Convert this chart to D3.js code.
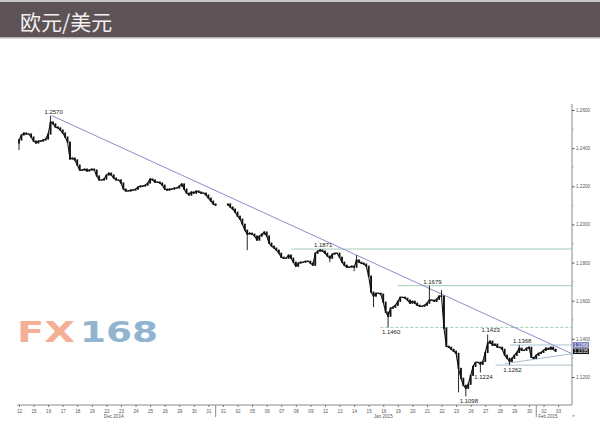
<!DOCTYPE html>
<html><head><meta charset="utf-8">
<script src="https://cdn.jsdelivr.net/npm/d3@7"></script>
<style>body{margin:0;background:#fff}svg{display:block}</style>
</head><body>
<svg id="c" width="600" height="424"></svg>
<script>
const title = "欧元/美元";
const dayLabels = ["12","15","16","17","18","19","22","23","24","25","26","29","30","31","01","02","05","06","07","08","09","12","13","14","15","16","19","20","21","22","23","26","27","28","29","30","02","03"];
const monthLabels = [["Dec 2014", 6.5], ["Jan 2015", 25], ["Feb 2015", 36.3]];
const monthBreaks = [13.5, 35.5];
const candlesPerDay = 6;
const firstOpen = 1.2427;
const closes = [
1.2443,1.2469,1.2479,1.2474,1.2474,1.2458,1.2437,1.2427,1.2437,1.2437,1.2443,1.2448,
1.2474,1.2537,1.2527,1.2511,1.2506,1.2495,1.2479,1.2458,1.2432,1.2343,1.2348,1.2338,
1.2311,1.2285,1.2285,1.2290,1.2280,1.2285,1.2290,1.2285,1.2254,1.2233,1.2233,1.2238,
1.2259,1.2269,1.2259,1.2243,1.2233,1.2233,1.2217,1.2185,1.2175,1.2175,1.2180,1.2180,
1.2185,1.2196,1.2201,1.2201,1.2206,1.2217,1.2238,1.2233,1.2222,1.2222,1.2217,1.2206,
1.2185,1.2180,1.2185,1.2185,1.2191,1.2191,1.2201,1.2212,1.2185,1.2164,1.2154,1.2170,
1.2164,1.2175,1.2170,1.2164,1.2164,1.2154,1.2138,1.2122,1.2107,1.2101,null,null,
null,null,1.2107,1.2091,1.2080,1.2064,1.2043,1.2028,1.2001,1.1970,1.1949,1.1954,
1.1949,1.1939,1.1918,1.1939,1.1949,1.1960,1.1939,1.1902,1.1886,1.1876,1.1865,1.1849,
1.1828,1.1823,1.1823,1.1839,1.1823,1.1802,1.1781,1.1797,1.1802,1.1802,1.1807,1.1807,
1.1797,1.1786,1.1849,1.1860,1.1865,1.1860,1.1849,1.1834,1.1823,1.1844,1.1849,1.1849,
1.1828,1.1802,1.1786,1.1776,1.1776,1.1781,1.1776,1.1813,1.1802,1.1797,1.1792,1.1781,
1.1729,1.1645,1.1624,1.1639,1.1639,1.1634,1.1592,1.1540,1.1519,1.1561,1.1566,1.1576,
1.1597,1.1618,1.1618,1.1613,1.1603,1.1587,1.1597,1.1587,1.1576,1.1571,1.1571,1.1576,
1.1587,1.1603,1.1603,1.1597,1.1608,1.1624,1.1624,1.1456,1.1361,1.1356,1.1345,1.1335,
1.1324,1.1245,1.1193,1.1156,1.1141,1.1162,1.1209,1.1256,1.1277,1.1277,1.1267,1.1282,
1.1329,1.1377,1.1388,1.1366,1.1372,1.1356,1.1356,1.1345,1.1314,1.1298,1.1282,1.1298,
1.1314,1.1329,1.1351,1.1340,1.1340,1.1351,1.1356,1.1303,1.1298,1.1314,1.1324,1.1329,
1.1340,1.1351,1.1345,1.1356,1.1345,1.1335
];
// wick extremes: [candle index, high or low, price]
const spikes = [
[0,"low",1.2390],[13,"high",1.2570],[94,"low",1.1865],[124,"high",1.1871],[128,"low",1.1802],
[138,"low",1.1755],[139,"high",1.1839],[146,"low",1.1566],[152,"low",1.1460],[169,"high",1.1679],
[174,"high",1.1655],[181,"low",1.1120],[184,"low",1.1098],[190,"low",1.1224],[193,"high",1.1423],
[202,"low",1.1262],[206,"high",1.1368]
];
// labelled extremes: [text, candle index, side]
const annotations = [
["1.2570",13,"high"],["1.1871",124,"high"],["1.1679",169,"high"],["1.1460",152,"low"],
["1.1423",193,"high"],["1.1368",206,"high"],["1.1262",202,"low"],["1.1224",190,"low"],["1.1098",184,"low"]
];
// horizontal levels: [price, start day index, dashed]
const levels = [[1.1871,18.7,false],[1.1679,26.0,false],[1.1460,24.8,true]];
const lowerLevels = [[1.1368,33.7],[1.1262,32.7]];
// trendlines: [[t0,p0],[t1,p1]]
const downTrend = [[2.26,1.2570],[37.95,1.1322]];
const upTrend = [[33.36,1.1270],[37.95,1.1322]];
const yTicks = [1.12,1.14,1.16,1.18,1.20,1.22,1.24,1.26];
const yMinor = [1.13,1.15,1.17,1.19,1.21,1.23,1.25];
const tagBlue = 1.1368;
const tagBlack = 1.1335;

const svg = d3.select("#c");
// title bar
svg.append("rect").attr("x",0).attr("y",0).attr("width",600).attr("height",37).attr("fill","#5d5356");
svg.append("rect").attr("x",0).attr("y",0).attr("width",600).attr("height",2).attr("fill","#c9c6c7");
svg.append("rect").attr("x",0).attr("y",37).attr("width",600).attr("height",1.5).attr("fill","#b5b0b2");
svg.append("text").attr("x",20).attr("y",30).attr("fill","#f2f0f0")
  .attr("font-family","'Noto Sans CJK SC'").attr("font-size",21).text(title);

const axisX = 572;
const x = d3.scaleLinear().domain([0,37]).range([19, 19+37*14.57]);
const y = d3.scaleLinear().domain([1.12,1.26]).range([377,110]);

// watermark
const wm = svg.append("g").attr("opacity",0.85).attr("font-family","'DejaVu Sans'").attr("font-weight","bold").attr("font-size",29);
wm.append("text").attr("x",17).attr("y",342).attr("fill","#f2a386").attr("textLength",58).attr("lengthAdjust","spacingAndGlyphs").text("FX");
wm.append("text").attr("x",80).attr("y",342).attr("fill","#7ea9c9").attr("textLength",78).attr("lengthAdjust","spacingAndGlyphs").text("168");

// levels
levels.forEach(([p,t0,dash])=>{
  svg.append("line").attr("x1",x(t0)).attr("x2",axisX).attr("y1",y(p)).attr("y2",y(p))
    .attr("stroke","#a3cdb8").attr("stroke-width",1).attr("stroke-dasharray",dash?"3,2":null);
});
lowerLevels.forEach(([p,t0])=>{
  svg.append("line").attr("x1",x(t0)).attr("x2",axisX).attr("y1",y(p)).attr("y2",y(p))
    .attr("stroke","#a9c3cf").attr("stroke-width",1);
});
[[downTrend,"#8a8ec6"],[upTrend,"#a9bccd"]].forEach(([tl,col])=>{
  svg.append("line").attr("x1",x(tl[0][0])).attr("y1",y(tl[0][1])).attr("x2",x(tl[1][0])).attr("y2",y(tl[1][1]))
    .attr("stroke",col).attr("stroke-width",1);
});

// candles
const candles = [];
let prev = firstOpen;
closes.forEach((c,i)=>{
  if(c===null) return;
  const o = prev;
  let h = Math.max(o,c), l = Math.min(o,c);
  spikes.filter(s=>s[0]===i).forEach(s=>{ if(s[1]==="high") h=s[2]; else l=s[2]; });
  candles.push({i,o,h,l,c,t:i/candlesPerDay});
  prev = c;
});
const cg = svg.append("g");
// thin trace through closes (same data) to give the continuous look of the dense candles
const segs = [];
let cur = [];
closes.forEach((c,i)=>{ if(c===null){ if(cur.length) segs.push(cur); cur=[]; } else cur.push({t:i/candlesPerDay,c}); });
if(cur.length) segs.push(cur);
const ln = d3.line().x(d=>x(d.t)).y(d=>y(d.c));
segs.forEach(s=>cg.append("path").attr("d",ln(s)).attr("fill","none").attr("stroke","#111").attr("stroke-width",1.1));
cg.selectAll("line").data(candles).join("line")
  .attr("x1",d=>x(d.t)).attr("x2",d=>x(d.t)).attr("y1",d=>y(d.h)).attr("y2",d=>y(d.l))
  .attr("stroke","#111").attr("stroke-width",0.9);
cg.selectAll("rect").data(candles).join("rect")
  .attr("x",d=>x(d.t)-0.9).attr("width",1.8)
  .attr("y",d=>Math.min(y(d.o),y(d.c))-0.6)
  .attr("height",d=>Math.abs(y(d.o)-y(d.c))+1.2)
  .attr("fill","#111");

// annotations
annotations.forEach(([txt,i,side])=>{
  const cd = candles.find(d=>d.i===i);
  const yy = side==="high" ? y(cd.h)-2 : y(cd.l)+7;
  svg.append("text").attr("x",x(cd.t)+3).attr("y",yy).attr("text-anchor","middle")
    .attr("font-family","'Liberation Sans'").attr("font-size",6).attr("fill","#222").text(txt);
});

// right axis
svg.append("line").attr("x1",axisX).attr("x2",axisX).attr("y1",104).attr("y2",405).attr("stroke","#8a8a8a").attr("stroke-width",1);
const ya = svg.append("g").attr("transform",`translate(${axisX},0)`)
  .call(d3.axisRight(y).tickValues(yTicks).tickSize(2.5).tickFormat(d3.format(".4f")));
ya.select(".domain").remove();
ya.selectAll("line").attr("stroke","#555");
ya.selectAll("text").attr("font-family","'Liberation Sans'").attr("font-size",4.6).attr("fill","#555").attr("x",4);
svg.append("g").selectAll("line").data(yMinor).join("line")
  .attr("x1",axisX).attr("x2",axisX+1.5).attr("y1",d=>y(d)).attr("y2",d=>y(d)).attr("stroke","#aaa");

// price tags
[[tagBlue,"#6b6fb3"],[tagBlack,"#151515"]].forEach(([p,col])=>{
  svg.append("rect").attr("x",axisX+1).attr("y",y(p)-2.8).attr("width",16).attr("height",5.6).attr("fill",col);
  svg.append("text").attr("x",axisX+9).attr("y",y(p)+1.7).attr("text-anchor","middle")
    .attr("font-family","'Liberation Sans'").attr("font-size",4.6).attr("fill","#fff").text(d3.format(".4f")(p));
});

// bottom axis
svg.append("line").attr("x1",17).attr("x2",axisX).attr("y1",405).attr("y2",405).attr("stroke","#8a8a8a");
const xa = svg.append("g").attr("transform","translate(0,405)")
  .call(d3.axisBottom(x).tickValues(d3.range(dayLabels.length)).tickSize(2).tickFormat(i=>dayLabels[i]));
xa.select(".domain").remove();
xa.selectAll("line").attr("stroke","#777");
xa.selectAll("text").attr("font-family","'Liberation Sans'").attr("font-size",4.6).attr("fill","#555").attr("dy",0).attr("y",8);
monthBreaks.forEach(b=>{
  svg.append("line").attr("x1",x(b)).attr("x2",x(b)).attr("y1",405).attr("y2",417).attr("stroke","#888");
});
monthLabels.forEach(([t,at])=>{
  svg.append("text").attr("x",x(at)).attr("y",418).attr("text-anchor","middle")
    .attr("font-family","'Liberation Sans'").attr("font-size",4.6).attr("fill","#555").text(t);
});
svg.append("text").attr("x",axisX).attr("y",417).attr("font-family","'Liberation Sans'").attr("font-size",5).attr("fill","#777").text("»");
</script>
</body></html>
